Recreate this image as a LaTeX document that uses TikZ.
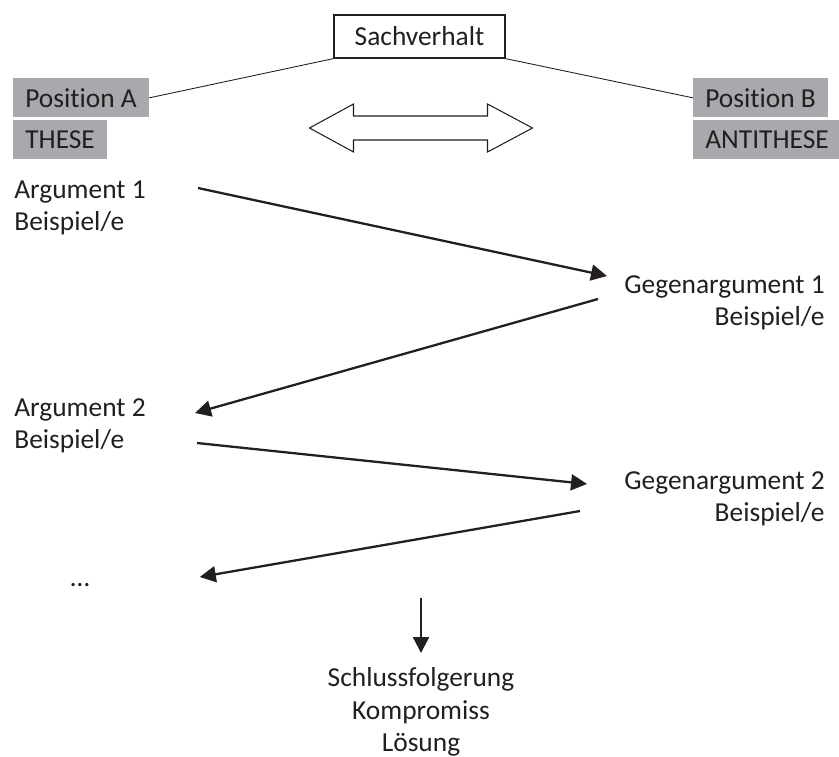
\documentclass[tikz,border=0pt]{standalone}
\usepackage{fontspec}
\setmainfont{Carlito}[Ligatures=NoCommon]
\usepackage{tikz}
\usetikzlibrary{arrows.meta,calc,positioning}
\definecolor{ink}{HTML}{231F20}
\definecolor{boxgray}{HTML}{A7A9AC}

\begin{document}
\begin{tikzpicture}[>={Triangle[length=0.32cm,width=0.32cm]},
  every node/.style={text=ink,font=\fontsize{15.6}{18.6}\selectfont},
  posbox/.style={fill=boxgray,inner xsep=0.24cm,inner ysep=0pt,minimum height=0.78cm,anchor=north west},
  txt/.style={inner sep=0pt,align=left},
  arr/.style={->,draw=ink,line width=1.3pt}]
\useasboundingbox (0,0) rectangle (16.78,-15.12);
\node[draw=ink,line width=0.7pt,minimum width=3.42cm,minimum height=0.86cm] (sach) at (8.39,-0.73) {Sachverhalt};
\node[posbox] (posA) at (0.26,-1.56) {Position A};
\node[posbox,below=0.04cm of posA.south west,anchor=north west] (these) {THESE};
\node[posbox] (posB) at (13.86,-1.56) {Position B};
\node[posbox,below=0.04cm of posB.south west,anchor=north west] (anti) {ANTITHESE};
\draw[ink,line width=0.5pt] (sach.south west) -- (posA.east);
\draw[ink,line width=0.5pt] (sach.south east) -- (posB.west);
\coordinate (swap) at (8.41,-2.56);
\draw[ink,line width=0.6pt] ($(swap)+(-2.22,0)$) -- ++(0.88,0.48) -- ++(0,-0.24) -- ++(2.68,0) -- ++(0,0.24)
  -- ++(0.9,-0.48) -- ++(-0.9,-0.48) -- ++(0,0.24) -- ++(-2.68,0) -- ++(0,-0.24) -- cycle;
\node[txt,anchor=north west] (arg1) at (0.28,-3.60) {Argument 1\\Beispiel/e};
\node[txt,align=right,anchor=north east] (gega1) at (16.50,-5.50) {Gegenargument 1\\Beispiel/e};
\node[txt,anchor=north west] (arg2) at (0.28,-7.96) {Argument 2\\Beispiel/e};
\node[txt,align=right,anchor=north east] (gega2) at (16.50,-9.42) {Gegenargument 2\\Beispiel/e};
\node[inner sep=0pt,anchor=base] (more) at (1.60,-11.72) {…};
\node[txt,align=center,anchor=north] (concl) at (8.42,-13.34) {Schlussfolgerung\\Kompromiss\\Lösung};
\draw[arr] ([shift={(3.68,-0.16)}]arg1.north west) -- ([shift={(-4.36,-0.02)}]gega1.north east);
\draw[arr] ([shift={(-4.54,-0.48)}]gega1.north east) -- ([shift={(3.62,-0.30)}]arg2.north west);
\draw[arr] ([shift={(3.66,-0.90)}]arg2.north west) -- ([shift={(-4.76,-0.26)}]gega2.north east);
\draw[arr] ([shift={(-4.90,-0.80)}]gega2.north east) -- ([shift={(2.20,0.18)}]more.base east);
\draw[arr] ([yshift=1.38cm]concl.north) -- ([yshift=0.28cm]concl.north);
\end{tikzpicture}
\end{document}
